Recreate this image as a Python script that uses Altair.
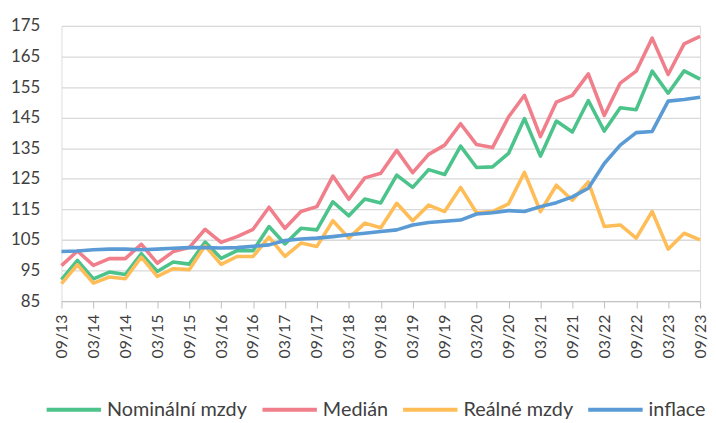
import altair as alt
import pandas as pd

periods = ["09/13", "12/13", "03/14", "06/14", "09/14", "12/14", "03/15", "06/15",
           "09/15", "12/15", "03/16", "06/16", "09/16", "12/16", "03/17", "06/17",
           "09/17", "12/17", "03/18", "06/18", "09/18", "12/18", "03/19", "06/19",
           "09/19", "12/19", "03/20", "06/20", "09/20", "12/20", "03/21", "06/21",
           "09/21", "12/21", "03/22", "06/22", "09/22", "12/22", "03/23", "06/23",
           "09/23"]

nominalni = [92.0, 98.3, 92.3, 94.5, 93.7, 100.5, 94.7, 97.8, 97.1, 104.3,
             99.0, 101.5, 101.5, 109.4, 103.7, 108.8, 108.3, 117.5, 112.9, 118.4,
             117.1, 126.2, 122.2, 128.0, 126.4, 135.7, 128.7, 128.9, 133.3, 144.7,
             132.4, 143.9, 140.3, 150.6, 140.6, 148.2, 147.6, 160.2, 153.0, 160.3,
             157.6]

median = [96.6, 101.4, 96.7, 98.9, 98.9, 103.6, 97.4, 101.2, 102.5, 108.5,
          104.2, 106.1, 108.5, 115.7, 108.8, 114.3, 115.9, 125.9, 118.3, 125.3,
          126.8, 134.3, 127.0, 133.0, 136.0, 143.0, 136.2, 135.2, 145.2, 152.3,
          138.8, 150.1, 152.3, 159.3, 145.7, 156.3, 160.2, 171.0, 159.1, 169.1,
          171.6]

realne = [90.7, 96.9, 90.9, 92.9, 92.3, 99.4, 93.1, 95.6, 95.3, 103.1,
          97.0, 99.6, 99.6, 105.9, 99.6, 104.0, 102.9, 111.3, 105.6, 110.5,
          109.0, 117.0, 111.3, 116.4, 114.3, 122.2, 113.9, 114.3, 116.8, 127.1,
          114.3, 122.9, 118.0, 124.0, 109.4, 109.9, 105.6, 114.3, 102.0, 107.2,
          105.0]

inflace = [101.2, 101.4, 101.8, 102.0, 102.0, 101.8, 102.0, 102.3, 102.5, 102.5,
           102.4, 102.5, 102.9, 103.4, 104.8, 105.3, 105.6, 106.1, 106.7, 107.2,
           107.8, 108.3, 109.9, 110.7, 111.1, 111.5, 113.5, 113.9, 114.6, 114.3,
           115.9, 117.2, 119.1, 121.9, 130.0, 136.0, 140.1, 140.5, 150.4, 150.9,
           151.7]

series_names = ["Nominální mzdy", "Medián", "Reálné mzdy", "inflace"]
series_colors = ["#4cc38a", "#f07f8b", "#ffbd57", "#5a9bd5"]
y_ticks = [85, 95, 105, 115, 125, 135, 145, 155, 165, 175]
x_labels = periods[::2]

rows = []
for name, vals in zip(series_names, [nominalni, median, realne, inflace]):
    for k, (p, v) in enumerate(zip(periods, vals)):
        rows.append({"obdobi": p, "hodnota": v, "rada": name, "poradi": k})
df = pd.DataFrame(rows)

FONT = "Lato"
TEXT = "#404040"

chart = alt.Chart(df).mark_line(strokeWidth=3.6, strokeJoin="round").encode(
    x=alt.X("obdobi:O", sort=periods,
            scale=alt.Scale(domain=periods, type="point", padding=0),
            axis=alt.Axis(title=None, values=x_labels, labelAngle=270,
                          labelFont=FONT, labelFontSize=16, labelColor=TEXT,
                          domainColor="#bfbfbf", domainWidth=1,
                          tickColor="#bfbfbf", tickSize=7, ticks=True,
                          labelPadding=6, grid=False)),
    y=alt.Y("hodnota:Q",
            scale=alt.Scale(domain=[85, 175], nice=False, zero=False),
            axis=alt.Axis(title=None, values=y_ticks, labelFont=FONT,
                          labelFontSize=17, labelColor=TEXT, domain=False,
                          ticks=False, tickSize=0, labelPadding=22,
                          grid=True, gridColor="#d9d9d9", gridWidth=1.3)),
    color=alt.Color("rada:N",
                    scale=alt.Scale(domain=series_names, range=series_colors),
                    sort=series_names,
                    legend=alt.Legend(title=None, orient="none", direction="horizontal",
                                      columns=4, legendX=-17, legendY=358,
                                      symbolType="stroke", symbolSize=3025,
                                      symbolStrokeWidth=4, labelFont=FONT,
                                      labelFontSize=20, labelColor=TEXT,
                                      labelOffset=4, columnPadding=7)),
    order=alt.Order("poradi:Q"),
).properties(
    width=645,
    height=278,
    autosize=alt.AutoSizeParams(type="none"),
    padding={"left": 54, "top": 16, "right": 8, "bottom": 120},
).configure_view(stroke=None).configure(background="white")

chart.save("out.html", embed_options={"renderer": "svg", "actions": False})
